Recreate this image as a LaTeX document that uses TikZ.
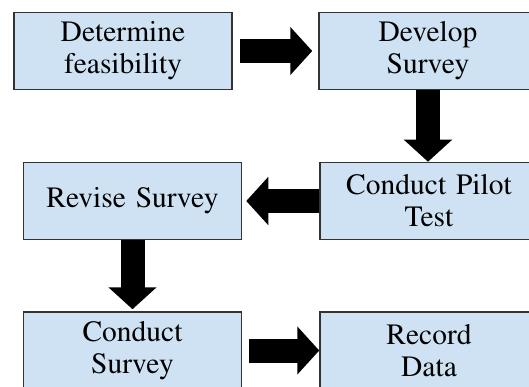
\documentclass[tikz,border=0pt]{standalone}
\usepackage[T1]{fontenc}
\usepackage{mathptmx}
\usepackage{tikz}
\usetikzlibrary{arrows.meta}
\definecolor{boxblue}{HTML}{CFE2F3}

\begin{document}
\begin{tikzpicture}[x=1pt,y=-1pt,
	stepbox/.style={draw=black!80, line width=1.5pt, fill=boxblue, minimum width=218pt, minimum height=77pt,
		text width=210pt, align=center, inner sep=0pt, font=\fontsize{29.5}{32}\selectfont},
	bigarrow/.style={line width=24pt, -{Triangle[length=22pt,width=47pt]}}]
					% Fix the frame
					\useasboundingbox (0,0) rectangle (529,387);
					\clip (0,0) rectangle (529,387);
					% Add the steps
					\node[stepbox] (feas) at (123,51) {Determine\\feasibility};
					\node[stepbox] (dev) at (428,51) {Develop\\Survey};
					\node[stepbox] (rev) at (132.5,201) {Revise Survey};
					\node[stepbox] (pilot) at (429,201) {Conduct Pilot\\Test};
					\node[stepbox] (csurv) at (132.5,350.5) {Conduct\\Survey};
					\node[stepbox] (rec) at (429,350.5) {Record\\Data};
					% Join the steps
					\draw[bigarrow, shorten <=7pt, shorten >=6pt] (feas.east) -- (dev.west);
					\draw[bigarrow] (dev.south) -- (dev.south |- pilot.north);
					\draw[bigarrow, shorten >=4pt] (pilot.west) -- (rev.east);
					\draw[bigarrow, shorten >=2pt] (rev.south) -- (rev.south |- csurv.north);
					\draw[bigarrow, shorten <=7pt] (csurv.east) -- (rec.west);
				\end{tikzpicture}
\end{document}
